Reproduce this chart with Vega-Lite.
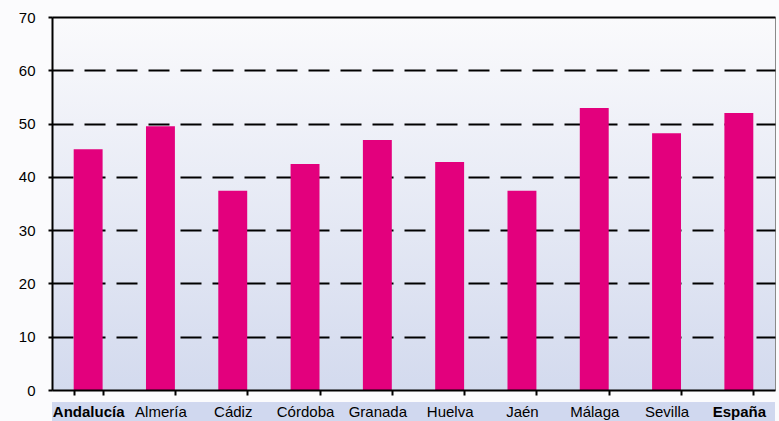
{
  "$schema": "https://vega.github.io/schema/vega-lite/v6.json",
  "width": 723,
  "height": 373,
  "autosize": {"type": "none"},
  "padding": {"left": 52, "top": 17, "right": 4, "bottom": 31},
  "background": "#fbfbfd",
  "config": {
    "font": "Liberation Sans",
    "view": {
      "stroke": "#8a8a8a",
      "strokeWidth": 1,
      "fill": {
        "gradient": "linear",
        "x1": 0, "y1": 0, "x2": 0, "y2": 1,
        "stops": [
          {"offset": 0, "color": "#fafafc"},
          {"offset": 1, "color": "#d3daee"}
        ]
      }
    }
  },
  "data": {
    "values": [
      {"provincia": "Andalucía", "valor": 45.2},
      {"provincia": "Almería", "valor": 49.5},
      {"provincia": "Cádiz", "valor": 37.4},
      {"provincia": "Córdoba", "valor": 42.4},
      {"provincia": "Granada", "valor": 46.9},
      {"provincia": "Huelva", "valor": 42.8},
      {"provincia": "Jaén", "valor": 37.4},
      {"provincia": "Málaga", "valor": 52.9},
      {"provincia": "Sevilla", "valor": 48.2},
      {"provincia": "España", "valor": 52.0}
    ]
  },
  "layer": [
    {
      "mark": {"type": "rect", "fill": "#d0d8ef", "clip": false},
      "encoding": {
        "y": {"datum": -2.4, "type": "quantitative", "scale": {"domain": [0, 70], "nice": false}},
        "y2": {"datum": -5.9}
      }
    },
    {
      "mark": {"type": "bar", "color": "#e3007d"},
      "encoding": {
        "x": {
          "field": "provincia",
          "type": "nominal",
          "sort": null,
          "title": null,
          "scale": {"paddingInner": 0.6, "paddingOuter": 0.3},
          "axis": {
            "zindex": 1,
            "labelAngle": 0,
            "labelFont": "Liberation Sans",
            "labelFontSize": 15,
            "labelColor": "#000000",
            "labelPadding": 9,
            "labelFontWeight": {
              "condition": {"test": "datum.value === 'Andalucía' || datum.value === 'España'", "value": "bold"},
              "value": "normal"
            },
            "tickBand": "extent",
            "tickSize": 5,
            "tickWidth": 2,
            "tickColor": "#000000",
            "domainColor": "#000000",
            "domainWidth": 2,
            "grid": false
          }
        },
        "y": {
          "field": "valor",
          "type": "quantitative",
          "title": null,
          "scale": {"domain": [0, 70], "nice": false},
          "axis": {
            "values": [0, 10, 20, 30, 40, 50, 60, 70],
            "labelFont": "Liberation Sans",
            "labelFontSize": 15,
            "labelColor": "#000000",
            "labelPadding": 13,
            "tickSize": 4,
            "tickWidth": 2,
            "tickColor": "#000000",
            "domainColor": "#000000",
            "domainWidth": 2,
            "grid": true,
            "gridColor": "#000000",
            "gridWidth": 2,
            "gridOpacity": {"condition": {"test": "datum.value === 0", "value": 0}, "value": 1},
            "gridDash": {"condition": {"test": "datum.value === 70", "value": []}, "value": [21, 11]}
          }
        }
      }
    }
  ]
}
